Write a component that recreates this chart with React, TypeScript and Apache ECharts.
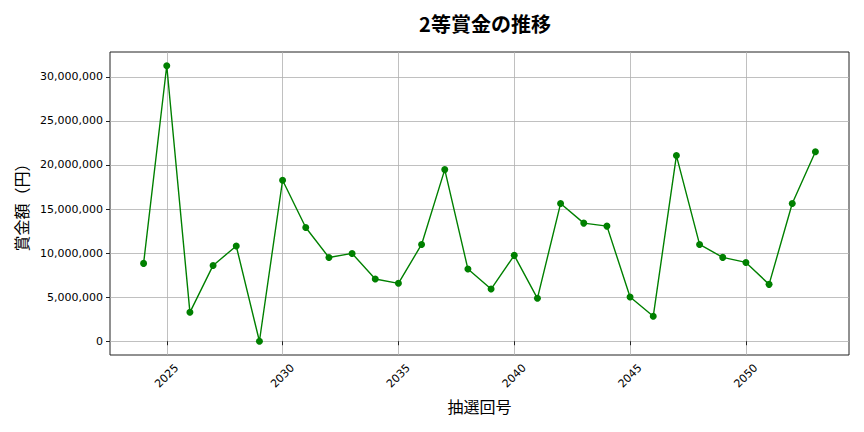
import { useEffect, useRef } from "react";
import * as echarts from "echarts";

const drawNumbers = [
    2024, 2025, 2026, 2027, 2028, 2029, 2030, 2031, 2032, 2033,
    2034, 2035, 2036, 2037, 2038, 2039, 2040, 2041, 2042, 2043,
    2044, 2045, 2046, 2047, 2048, 2049, 2050, 2051, 2052, 2053,
];
const prizeAmounts = [
    8830000, 31250000, 3280000, 8600000, 10800000, 0, 18260000, 12900000, 9500000, 9960000,
    7060000, 6570000, 10980000, 19470000, 8190000, 5920000, 9740000, 4870000, 15620000, 13400000,
    13060000, 5020000, 2830000, 21060000, 10980000, 9510000, 8940000, 6450000, 15620000, 21500000,
];
const xTicks = [2025, 2030, 2035, 2040, 2045, 2050];
const yTicks = [0, 5000000, 10000000, 15000000, 20000000, 25000000, 30000000];

const CJK = "'Noto Sans CJK JP', 'Noto Sans', sans-serif";
const TICK_FONT = "'DejaVu Sans', sans-serif";

const App = () => {
    const chartRef = useRef<HTMLDivElement>(null);

    useEffect(() => {
        document.body.style.margin = "0";
        if (!chartRef.current) return;
        const chart = echarts.init(chartRef.current, null, { renderer: "svg" });

        // matplotlib-style 5% margins around the data
        const xSpan = drawNumbers[drawNumbers.length - 1] - drawNumbers[0];
        const xMin = drawNumbers[0] - xSpan * 0.05;
        const xMax = drawNumbers[drawNumbers.length - 1] + xSpan * 0.05;
        const yLo = Math.min(...prizeAmounts);
        const yHi = Math.max(...prizeAmounts);
        const yMin = yLo - (yHi - yLo) * 0.05;
        const yMax = yHi + (yHi - yLo) * 0.05;

        const gridColor = "#b0b0b0";

        chart.setOption({
            animation: false,
            textStyle: { fontFamily: CJK },
            title: {
                text: "2等賞金の推移",
                left: 480,
                top: 8,
                textAlign: "center",
                textStyle: { fontSize: 20, fontWeight: "bold", color: "#000", fontFamily: CJK },
            },
            grid: {
                left: 110,
                right: 15,
                top: 52,
                bottom: 77,
                show: true,
                borderColor: "#222",
                borderWidth: 1,
            },
            xAxis: {
                type: "value",
                min: xMin,
                max: xMax,
                name: "抽選回号",
                nameLocation: "middle",
                nameGap: 43,
                nameTextStyle: { fontSize: 16, color: "#000", fontFamily: CJK },
                axisLine: { show: false },
                axisTick: { show: true, length: 4, customValues: xTicks, lineStyle: { color: "#222" } },
                axisLabel: {
                    customValues: xTicks,
                    rotate: 45,
                    align: "center",
                    verticalAlign: "middle",
                    margin: 21,
                    fontSize: 11,
                    color: "#000",
                    fontFamily: TICK_FONT,
                    formatter: (v: number) => String(v),
                },
                splitLine: { show: true, lineStyle: { color: gridColor, width: 0.8 } },
            },
            yAxis: {
                type: "value",
                min: yMin,
                max: yMax,
                name: "賞金額（円）",
                nameLocation: "middle",
                nameGap: 80,
                nameRotate: 90,
                nameTextStyle: { fontSize: 16, color: "#000", fontFamily: CJK },
                axisLine: { show: false },
                axisTick: { show: true, length: 4, customValues: yTicks, lineStyle: { color: "#222" } },
                axisLabel: {
                    customValues: yTicks,
                    margin: 7,
                    fontSize: 11,
                    color: "#000",
                    fontFamily: TICK_FONT,
                    formatter: (v: number) => Math.round(v).toLocaleString("en-US"),
                },
                splitLine: { show: true, lineStyle: { color: gridColor, width: 0.8 } },
            },
            series: [
                {
                    name: "2等賞金",
                    type: "line",
                    data: drawNumbers.map((d, i) => [d, prizeAmounts[i]]),
                    symbol: "circle",
                    symbolSize: 7,
                    lineStyle: { color: "#008000", width: 1.4 },
                    itemStyle: { color: "#008000" },
                },
            ],
        });

        return () => {
            chart.dispose();
        };
    }, []);

    return <div ref={chartRef} style={{ width: "864px", height: "432px" }} />;
};

export default App;
